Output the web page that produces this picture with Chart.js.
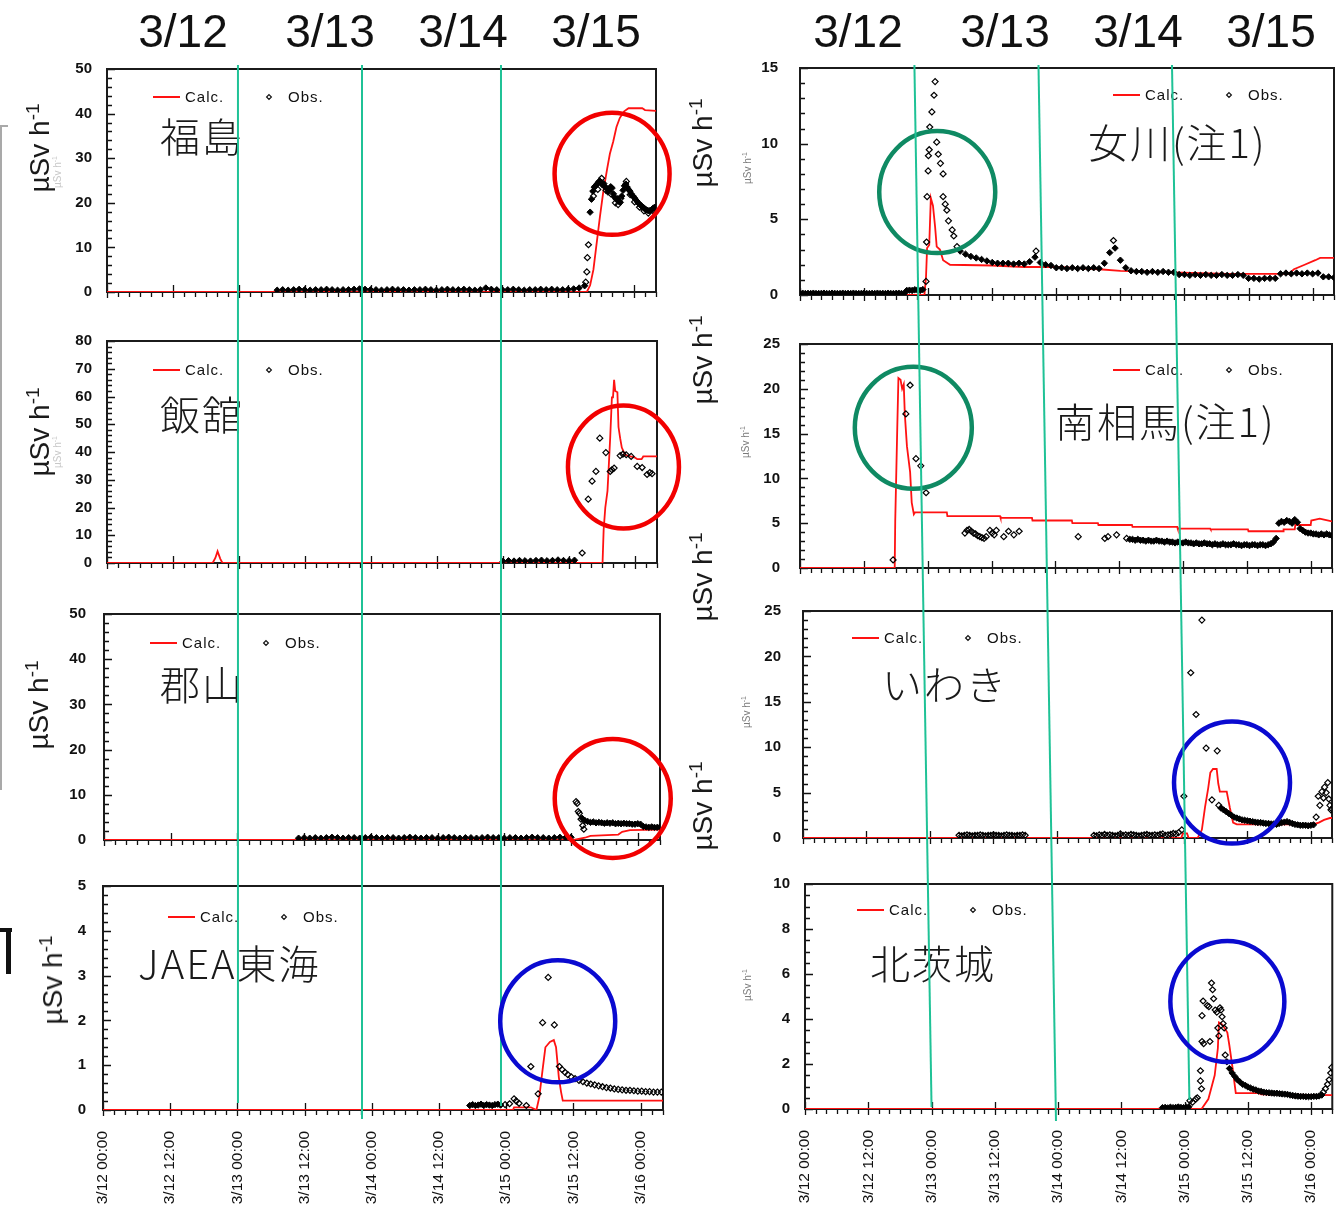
<!DOCTYPE html>
<html lang="ja">
<head>
<meta charset="utf-8">
<title>空間線量率 計算値と観測値</title>
<script src="https://cdn.jsdelivr.net/npm/chart.js@4.4.1/dist/chart.umd.min.js"></script>
<style>
  html, body { margin: 0; background: #fff; }
  #page { position: relative; width: 1343px; height: 1214px; overflow: hidden; font-family: "Liberation Sans", Arial, sans-serif; color: #111; }
  #page canvas { position: absolute; }
  .day { position: absolute; top: 8px; font-size: 46px; line-height: 46px; transform: translateX(-50%); white-space: nowrap; }
  .unit { position: absolute; font-size: 28px; line-height: 30px; white-space: nowrap; color: #1a1a1a; transform: translate(-50%, -50%) rotate(-90deg); }
  .unit sup { font-size: 19px; vertical-align: 10px; line-height: 0; }
  .unit.small { font-size: 10px; line-height: 12px; color: #7a7a7a; }
  .unit.small sup { font-size: 7px; vertical-align: 4px; }
  .unit.faint { font-size: 10px; line-height: 12px; color: #c8c8c8; }
  .unit.faint sup { font-size: 7px; vertical-align: 4px; }
  .edge { position: absolute; background: #a9a9a9; }
  .mark { position: absolute; background: #111; }
</style>
</head>
<body>
<div id="page"></div>
<script>
// time axis: hours after 3/12 00:00
const timeTicks = ['3/12 00:00', '3/12 12:00', '3/13 00:00', '3/13 12:00', '3/14 00:00',
                   '3/14 12:00', '3/15 00:00', '3/15 12:00', '3/16 00:00'];
const dayLabels = ['3/12', '3/13', '3/14', '3/15'];

// 福島
const fukushimaCalc = [[0, 0], [87.4, 0], [88.0, 1.5], [88.6, 5], [89.2, 11], [89.8, 17], [90.4, 22.5], [91.1, 27.6],
  [91.6, 31], [92.2, 33.7], [92.8, 37], [93.4, 39], [94.2, 40.5], [95.0, 41.2], [97.5, 41.2], [98.0, 40.8], [100, 40.6]];
const fukushimaObsBase = [0.4, 0.5, 0.4, 0.5, 0.6, 0.5, 0.4, 0.5, 0.5, 0.6, 0.5, 0.4, 0.5, 0.5, 0.6, 0.7, 0.6, 0.5, 0.5, 0.4,
  0.5, 0.6, 0.5, 0.5, 0.4, 0.5, 0.5, 0.6, 0.5, 0.4, 0.5, 0.6, 0.5, 0.5, 0.6, 0.5, 0.4, 0.5, 0.9, 0.6,
  0.5, 0.5, 0.5, 0.6, 0.5, 0.4, 0.5, 0.5, 0.6, 0.5, 0.6, 0.5, 0.5, 0.6, 0.7, 0.9, 1.4];
const fukushimaObsRise = [[87.2, 2.2], [87.4, 4.5], [87.5, 7.7], [87.7, 10.6], [88.6, 21.5], [89.4, 23.0], [90.1, 25.5],
  [90.9, 22.8], [91.8, 22.0], [92.6, 20.0], [93.1, 19.6], [93.6, 21.0], [94.6, 24.8], [95.3, 21.8], [96.1, 20.2],
  [97.0, 19.0], [97.8, 18.2], [98.6, 17.7], [99.4, 18.3]];
const fukushimaObsPeak = [17.9, 20.8, 22.6, 23.5, 23.8, 24.2, 24.6, 24.9, 24.5, 24.0, 24.3, 23.6, 23.2, 22.4, 23.0, 23.6,
  23.3, 22.0, 21.2, 20.8, 20.9, 20.3, 20.1, 21.5, 22.8, 23.8, 24.2, 23.5, 23.0, 22.6, 22.0, 21.6,
  21.2, 20.8, 20.4, 20.0, 19.7, 19.4, 19.1, 18.9, 18.6, 18.4, 18.3, 18.2, 18.3, 18.5, 18.8, 19.0];

// 飯舘
const iitateCalc = [[0, 0], [19.2, 0], [19.7, 1.8], [20.1, 4.2], [20.6, 1.5], [21.0, 0], [90.1, 0], [90.3, 12], [90.6, 20],
  [91.0, 26], [91.2, 33.7], [91.5, 45.6], [91.8, 59.7], [92.0, 59.7], [92.2, 66], [92.4, 62], [92.8, 61.5], [93.0, 49],
  [93.3, 45], [93.6, 41.6], [94.2, 39], [95.0, 38.5], [96.0, 38], [96.4, 37.4], [97.2, 37.4], [97.5, 38.4], [100, 38.4]];
const iitateObsBase = [0.6, 0.8, 0.7, 0.9, 0.8, 0.7, 0.9, 1.0, 0.8, 0.9, 1.1, 0.9, 0.8, 1.0];
const iitateObsPts = [[86.4, 3.6], [87.5, 23], [88.2, 29.5], [88.9, 33], [89.6, 45], [90.7, 39.8], [91.5, 33], [91.8, 33.6],
  [92.2, 34.2], [93.3, 38.7], [93.8, 39.2], [94.4, 39], [95.3, 38.4], [96.4, 34.8], [97.3, 34.4], [98.2, 31.9], [98.7, 32.6], [99.1, 32.2]];

// 郡山
const koriyamaCalc = [[0, 0], [84.5, 0], [86.5, 0.5], [87.5, 0.9], [92.5, 1.2], [93.2, 1.8], [94.6, 2.2], [100, 2.3]];
const koriyamaObsBase = [0.4, 0.5, 0.4, 0.5, 0.4, 0.5, 0.6, 0.5, 0.4, 0.5, 0.5, 0.4, 0.5, 0.6, 0.5, 0.4, 0.5, 0.5, 0.4, 0.5,
  0.6, 0.5, 0.4, 0.5, 0.5, 0.4, 0.5, 0.6, 0.5, 0.4, 0.5, 0.5, 0.4, 0.5, 0.6, 0.5, 0.5, 0.4, 0.5, 0.5,
  0.4, 0.5, 0.6, 0.5, 0.5, 0.4, 0.5, 0.6, 0.5, 0.6];
const koriyamaObsPts = [[84.9, 8.5], [85.1, 8.1], [85.3, 6.3], [85.5, 5.9], [85.8, 4.6], [86.1, 3.2], [86.3, 2.4]];
const koriyamaObsTail = [4.8, 4.3, 4.1, 3.9, 4.0, 3.8, 3.9, 3.8, 3.7, 3.8, 3.7, 3.8, 3.6, 3.7, 3.6, 3.7, 3.6, 3.6, 3.5, 3.5,
  3.6, 3.5, 3.0, 2.9, 2.8, 2.9, 2.8, 2.8, 2.9];

// JAEA東海
const tokaiCalc = [[0, 0], [73.2, 0], [73.4, 0.06], [76.4, 0.06], [77.4, 0], [77.9, 0.28], [78.5, 0.9], [79.0, 1.4],
  [79.8, 1.52], [80.5, 1.56], [80.9, 1.4], [81.4, 0.73], [81.8, 0.4], [82.1, 0.21], [100, 0.21]];
const tokaiObsBase = [0.1, 0.12, 0.1, 0.11, 0.13, 0.1, 0.12, 0.11, 0.1, 0.12, 0.13, 0.11];
const tokaiObsPts = [[71.8, 0.12], [72.6, 0.14], [73.4, 0.25], [73.8, 0.2], [74.3, 0.15], [75.6, 0.1], [76.4, 0.97],
  [77.7, 0.36], [78.5, 1.95], [79.5, 2.96], [80.6, 1.9], [81.5, 0.97], [82.0, 0.9], [82.5, 0.84], [83.0, 0.79], [83.6, 0.74],
  [84.3, 0.7], [85.0, 0.66], [85.7, 0.63], [86.4, 0.6], [87.1, 0.58], [87.8, 0.56], [88.5, 0.54], [89.2, 0.52], [89.9, 0.5],
  [90.6, 0.49], [91.3, 0.47], [92.0, 0.46], [92.7, 0.45], [93.4, 0.44], [94.1, 0.44], [94.8, 0.43], [95.5, 0.42], [96.2, 0.42],
  [96.9, 0.41], [97.6, 0.41], [98.3, 0.4], [99.0, 0.4], [99.7, 0.4]];

// 女川
const onagawaCalc = [[0, 0], [23.3, 0], [23.6, 1.2], [23.8, 3.1], [24.2, 3.3], [24.5, 6.4], [24.9, 5.9], [25.3, 4.5],
  [25.6, 3.2], [26.2, 3.0], [26.8, 2.3], [28.1, 2.0], [36, 1.95], [42, 1.85], [48, 1.85], [56, 1.7], [60, 1.6], [70, 1.5],
  [80, 1.4], [91.5, 1.4], [92.5, 1.7], [94.5, 2.0], [96.5, 2.3], [97.4, 2.45], [100, 2.45]];
const onagawaObsBase = [0.1, 0.12, 0.1, 0.11, 0.1, 0.12, 0.1, 0.1, 0.11, 0.12, 0.1, 0.1, 0.12, 0.11, 0.1, 0.1, 0.12, 0.1, 0.11, 0.1,
  0.12, 0.1, 0.1, 0.11, 0.12, 0.1, 0.1, 0.11, 0.1, 0.12, 0.1, 0.11, 0.1, 0.12, 0.1, 0.1, 0.11, 0.12, 0.1, 0.1,
  0.3, 0.32, 0.3, 0.35, 0.33, 0.3, 0.36];
const onagawaObsPeak = [[23.6, 0.9], [23.7, 3.5], [23.8, 6.5], [24.0, 8.2], [24.05, 9.2], [24.2, 9.6], [24.3, 11.1],
  [24.7, 12.1], [25.1, 13.2], [25.3, 14.1], [25.6, 10.1], [25.9, 9.3], [26.3, 8.7], [26.8, 8.0], [26.8, 6.5], [27.2, 6.0],
  [27.5, 5.6], [27.8, 4.9], [28.5, 4.3], [28.8, 3.9], [29.4, 3.2], [44.2, 2.9], [58.7, 3.6]];
const onagawaObsTail = [2.9, 2.7, 2.55, 2.45, 2.35, 2.25, 2.15, 2.1, 2.1, 2.1, 2.05, 2.1, 2.05, 2.2, 2.5, 2.15, 2.0, 1.95, 1.8, 1.8,
  1.75, 1.8, 1.75, 1.8, 1.75, 1.8, 1.75, 2.1, 2.8, 3.1, 2.3, 1.8, 1.6, 1.55, 1.55, 1.5, 1.55, 1.5, 1.55, 1.5,
  1.5, 1.35, 1.35, 1.3, 1.35, 1.3, 1.35, 1.3, 1.3, 1.35, 1.3, 1.3, 1.35, 1.3, 1.1, 1.1, 1.05, 1.1, 1.1, 1.1,
  1.4, 1.45, 1.4, 1.45, 1.4, 1.45, 1.4, 1.45, 1.2, 1.2, 1.15];

// 南相馬
const minamisomaCalc = [[0, 0], [17.8, 0], [17.9, 5.2], [18.3, 16.1], [18.5, 21.2], [18.9, 21.0], [19.2, 20.0], [19.5, 20.5],
  [19.7, 17.2], [20.1, 13.6], [20.7, 10.7], [21.0, 7.3], [21.4, 6.0], [21.6, 6.2], [27.6, 6.2], [27.7, 5.8], [37.6, 5.8],
  [37.7, 5.6], [43.6, 5.6], [43.7, 5.3], [51.1, 5.3], [51.2, 5.0], [56.0, 5.0], [56.1, 4.8], [62.4, 4.8], [62.5, 4.6],
  [70.9, 4.6], [71.0, 4.4], [77.1, 4.4], [77.2, 4.3], [84.2, 4.3], [84.3, 4.1], [90.8, 4.1], [90.9, 4.3], [93.0, 4.3],
  [93.1, 4.8], [96.0, 4.8], [96.1, 5.3], [97.7, 5.5], [98.5, 5.4], [100, 5.2]];
const minamisomaObsPts = [[17.5, 0.9], [19.9, 17.2], [20.7, 20.4], [21.8, 12.2], [22.7, 11.4], [23.7, 8.4],
  [31.0, 3.9], [31.4, 4.2], [31.8, 4.3], [32.2, 4.1], [32.6, 3.9], [33.0, 3.8], [33.4, 3.6], [33.8, 3.5], [34.2, 3.4],
  [34.6, 3.3], [35.0, 3.5], [35.7, 4.2], [36.1, 3.9], [36.5, 3.7], [36.9, 4.2], [38.3, 3.5], [39.2, 4.1], [40.2, 3.7],
  [41.2, 4.1], [52.3, 3.5], [57.3, 3.3], [57.9, 3.5], [59.5, 3.7], [61.4, 3.3]];
const minamisomaObsMid = [3.2, 3.2, 3.1, 3.2, 3.1, 3.1, 3.0, 3.1, 3.0, 3.0, 3.1, 3.0, 3.0, 2.9, 3.0, 2.9,
  2.9, 2.8, 2.9, 2.8, 2.8, 2.9, 2.8, 2.8, 2.7, 2.8, 2.7, 2.7, 2.8, 2.7, 2.7, 2.6,
  2.7, 2.6, 2.6, 2.7, 2.6, 2.6, 2.6, 2.7, 2.6, 2.6, 2.5, 2.6, 2.6, 2.5, 2.6, 2.6,
  2.5, 2.6, 2.6, 2.5, 2.6, 2.7, 2.9, 3.3];
const minamisomaObsEnd = [5.0, 5.2, 5.1, 5.3, 5.2, 5.0, 5.4, 5.1, 4.4, 4.2, 4.0, 3.9, 3.9, 3.8, 3.8, 3.7, 3.8, 3.7, 3.8, 3.7, 3.6];

// いわき
const iwakiCalc = [[0, 0], [71.5, 0], [71.8, 0.5], [72.6, 0.5], [72.9, 0], [74.6, 0], [75.4, 0.9], [76.0, 3.4], [76.6, 5.5],
  [77.0, 7.2], [77.5, 7.6], [78.2, 7.6], [78.5, 6.0], [78.8, 5.1], [80.1, 5.1], [80.4, 4.2], [80.7, 3.3], [81.3, 1.7],
  [82.0, 1.5], [96.4, 1.5], [97.5, 1.7], [98.5, 2.0], [99.6, 2.2], [100, 2.2]];
const iwakiObsBaseA = [0.3, 0.25, 0.3, 0.35, 0.3, 0.25, 0.3, 0.3, 0.35, 0.3, 0.25, 0.3, 0.3, 0.35, 0.3, 0.3, 0.25, 0.3, 0.35,
  0.3, 0.3, 0.25, 0.3, 0.3, 0.35, 0.3];
const iwakiObsBaseB = [0.3, 0.25, 0.35, 0.3, 0.4, 0.3, 0.35, 0.3, 0.25, 0.3, 0.45, 0.3, 0.35, 0.3, 0.4, 0.35, 0.3, 0.25, 0.3,
  0.35, 0.4, 0.3, 0.3, 0.35, 0.3, 0.4, 0.45, 0.3, 0.35, 0.4, 0.5, 0.45, 0.6];
const iwakiObsPts = [[71.6, 0.9], [72.0, 4.6], [73.3, 18.2], [74.3, 13.6], [75.4, 24.0], [76.2, 9.9], [77.3, 4.2],
  [78.3, 9.6], [78.6, 3.6], [97.0, 2.3], [97.4, 4.6], [97.7, 3.6], [98.1, 5.1], [98.4, 4.4], [98.6, 5.6], [98.9, 5.0],
  [99.2, 6.1], [99.4, 4.3], [99.6, 3.6], [99.8, 3.1], [100, 3.2]];
const iwakiObsTail = [3.3, 3.1, 2.9, 2.7, 2.5, 2.3, 2.2, 2.1, 2.0, 1.95, 1.9, 1.85, 1.8, 1.75, 1.7, 1.7, 1.65, 1.6,
  1.6, 1.55, 1.55, 1.5, 1.6, 1.7, 1.75, 1.8, 1.7, 1.6, 1.5, 1.45, 1.4, 1.4, 1.4, 1.35, 1.4, 1.45];

// 北茨城
const kitaibarakiCalc = [[0, 0], [75.2, 0], [76.5, 0.44], [77.7, 1.5], [78.3, 2.7], [78.5, 3.85], [78.9, 3.8], [79.3, 3.7],
  [80.1, 3.4], [80.5, 2.8], [81.1, 1.8], [81.7, 0.71], [86.0, 0.71], [86.5, 0.65], [100, 0.62]];
const kitaibarakiObsBase = [0.06, 0.07, 0.05, 0.08, 0.06, 0.07, 0.09, 0.07, 0.06, 0.08, 0.1];
const kitaibarakiObsPts = [[73.0, 0.37], [73.5, 0.3], [74.1, 0.44], [74.4, 0.5], [75.0, 1.7], [75.0, 1.25], [75.2, 0.9],
  [75.3, 3.0], [75.3, 4.15], [75.5, 4.8], [75.6, 2.9], [76.3, 4.6], [76.6, 4.55], [76.8, 3.0], [77.1, 5.6], [77.3, 5.3],
  [77.5, 4.9], [77.8, 4.4], [78.1, 4.3], [78.3, 3.6], [78.5, 3.25], [78.7, 4.5], [78.9, 4.4], [79.1, 4.1], [79.3, 3.8],
  [79.5, 3.6], [79.7, 2.4], [98.3, 0.75], [98.7, 0.9], [99.1, 1.1], [99.4, 1.3], [99.7, 1.6], [99.9, 1.85]];
const kitaibarakiObsTail = [2.1, 1.8, 1.6, 1.45, 1.3, 1.2, 1.1, 1.05, 0.98, 0.93, 0.88, 0.85, 0.8, 0.78, 0.75, 0.73, 0.72,
  0.71, 0.7, 0.7, 0.68, 0.67, 0.66, 0.65, 0.62, 0.6, 0.58, 0.57, 0.56, 0.56, 0.55, 0.55, 0.55, 0.56, 0.56, 0.58, 0.62];

// day marker lines, as hours on the bottom time axis of each column [at top end, at bottom end]
const guideLeft = [[24.1, 24.1], [46.25, 46.25], [71.07, 71.07]];
const guideRight = [[20.75, 24.0], [44.28, 47.6], [69.6, 72.9]];

const xy = list => list.map(([x, y]) => ({ x, y }));
const series = (start, step, values) => values.map((y, i) => ({ x: start + i * step, y }));

const RED = '#ff1212';
const RING = { red: '#f20000', green: '#0f8a63', blue: '#0a0ad0' };
const GUIDE = '#1fc296';

const panels = [
  { name: '福島', box: [0, 50, 690, 325], plot: [107, 69, 656, 292], yMax: 50, yStep: 10, yMinor: 2, yPad: 15,
    calc: fukushimaCalc,
    filled: [...series(31, 1, fukushimaObsBase), ...series(88, 0.25, fukushimaObsPeak)],
    hollow: xy(fukushimaObsRise),
    legendAt: [46, 28], nameAt: [53, 68], ring: { x: 92, y: 26.5, rx: 57.5, ry: 61, color: RING.red } },
  { name: '飯舘', box: [0, 325, 690, 598], plot: [107, 341, 657, 563], yMax: 80, yStep: 10, yMinor: 2, yPad: 15,
    calc: iitateCalc,
    filled: series(72, 1, iitateObsBase),
    hollow: xy(iitateObsPts),
    legendAt: [46, 29], nameAt: [53, 74], ring: { x: 93.9, y: 34.6, rx: 55.5, ry: 61.5, color: RING.red } },
  { name: '郡山', box: [0, 598, 690, 872], plot: [104, 614, 660, 840], yMax: 50, yStep: 10, yMinor: 2, yPad: 18,
    calc: koriyamaCalc,
    filled: [...series(35, 1, koriyamaObsBase), ...series(86, 0.5, koriyamaObsTail)],
    hollow: xy(koriyamaObsPts),
    legendAt: [46, 29], nameAt: [56, 71], ring: { x: 91.5, y: 9.2, rx: 58, ry: 59.5, color: RING.red } },
  { name: 'JAEA東海', box: [0, 50, 690, 1214], plot: [103, 886, 663, 1110], yMax: 5, yStep: 1, yMinor: 0.2, yPad: 17,
    calc: tokaiCalc,
    filled: series(65.5, 0.5, tokaiObsBase),
    hollow: xy(tokaiObsPts),
    legendAt: [65, 31], nameAt: [35, 78], ring: { x: 81.2, y: 1.98, rx: 57.5, ry: 61, color: RING.blue },
    timeAxis: true, guides: guideLeft, guideSpan: [[65, 1103], [65, 1119], [65, 1106]] },
  { name: '女川(注1)', box: [690, 50, 1343, 325], plot: [800, 68, 1334, 295], yMax: 15, yStep: 5, yMinor: 1, yPad: 22,
    calc: onagawaCalc,
    filled: [...series(0, 0.5, onagawaObsBase), ...series(30, 1, onagawaObsTail)],
    hollow: xy(onagawaObsPeak),
    legendAt: [313, 27], nameAt: [288, 75], ring: { x: 25.7, y: 6.8, rx: 58, ry: 61, color: RING.green } },
  { name: '南相馬(注1)', box: [690, 325, 1343, 598], plot: [800, 344, 1332, 568], yMax: 25, yStep: 5, yMinor: 1, yPad: 20,
    calc: minamisomaCalc,
    filled: [...series(62, 0.5, minamisomaObsMid), ...series(90, 0.5, minamisomaObsEnd)],
    hollow: xy(minamisomaObsPts),
    legendAt: [313, 26], nameAt: [255, 78], ring: { x: 21.3, y: 15.65, rx: 58.5, ry: 61, color: RING.green } },
  { name: 'いわき', box: [690, 598, 1343, 870], plot: [803, 611, 1332, 838], yMax: 25, yStep: 5, yMinor: 1, yPad: 22,
    calc: iwakiCalc,
    filled: series(79, 0.5, iwakiObsTail),
    hollow: [...series(29.5, 0.5, iwakiObsBaseA), ...series(55, 0.5, iwakiObsBaseB), ...xy(iwakiObsPts)],
    legendAt: [49, 27], nameAt: [79, 74], ring: { x: 81.1, y: 6.1, rx: 58, ry: 61, color: RING.blue } },
  { name: '北茨城', box: [690, 50, 1343, 1214], plot: [805, 884, 1338, 1109], yMax: 10, yStep: 2, yMinor: 0.5, yPad: 15,
    calc: kitaibarakiCalc,
    filled: [...series(67.8, 0.5, kitaibarakiObsBase), ...series(80, 0.5, kitaibarakiObsTail)],
    hollow: xy(kitaibarakiObsPts),
    legendAt: [52, 26], nameAt: [65, 80], ring: { x: 80.1, y: 4.78, rx: 57, ry: 60.5, color: RING.blue },
    timeAxis: true, guides: guideRight, guideSpan: [[65, 1107], [65, 1121], [65, 1100]] }
];

function diamond(ctx, cx, cy, r) {
  ctx.beginPath();
  ctx.moveTo(cx, cy - r);
  ctx.lineTo(cx + r, cy);
  ctx.lineTo(cx, cy + r);
  ctx.lineTo(cx - r, cy);
  ctx.closePath();
  ctx.lineWidth = 1.2;
  ctx.strokeStyle = '#111';
  ctx.stroke();
}

// frame, tick marks, legend, station name, ring and day lines for one panel
function decor(p) {
  return {
    id: 'decor',
    beforeDatasetsDraw(chart) {
      const { ctx, chartArea: a, scales: { x, y } } = chart;
      ctx.save();
      ctx.strokeStyle = '#111';
      ctx.lineWidth = 1.3;
      ctx.beginPath();
      for (let h = 0; h <= 100; h += 2) {
        const px = Math.round(x.getPixelForValue(h)) + 0.5;
        const major = h % 12 === 0;
        ctx.moveTo(px, a.bottom - (major ? 7 : 0));
        ctx.lineTo(px, a.bottom + (major ? 6 : 5));
      }
      const n = Math.round(p.yMax / p.yMinor);
      for (let i = 0; i <= n; i++) {
        const v = i * p.yMinor;
        const py = Math.round(y.getPixelForValue(v)) + 0.5;
        const major = Math.abs(v / p.yStep - Math.round(v / p.yStep)) < 1e-6;
        ctx.moveTo(a.left, py);
        ctx.lineTo(a.left + (major ? 8 : 5), py);
      }
      ctx.stroke();
      ctx.lineWidth = 2;
      ctx.strokeStyle = '#1b1b1b';
      ctx.strokeRect(a.left, a.top, a.right - a.left, a.bottom - a.top);
      ctx.restore();
    },
    afterDatasetsDraw(chart) {
      const { ctx, chartArea: a, scales: { x, y } } = chart;
      ctx.save();
      const lx = a.left + p.legendAt[0], ly = a.top + p.legendAt[1];
      ctx.strokeStyle = RED;
      ctx.lineWidth = 2;
      ctx.beginPath();
      ctx.moveTo(lx, ly);
      ctx.lineTo(lx + 27, ly);
      ctx.stroke();
      ctx.font = '15px "Liberation Sans"';
      ctx.fillStyle = '#111';
      ctx.textBaseline = 'middle';
      ctx.letterSpacing = '1px';
      ctx.fillText('Calc.', lx + 32, ly + 1);
      diamond(ctx, lx + 116, ly, 2.4);
      ctx.fillText('Obs.', lx + 135, ly + 1);

      ctx.font = '300 40px "Noto Sans CJK JP"';
      ctx.letterSpacing = '2px';
      ctx.fillStyle = '#1a1a1a';
      ctx.fillText(p.name, a.left + p.nameAt[0], a.top + p.nameAt[1]);
      ctx.letterSpacing = '0px';

      if (p.guides) {
        const top = p.box[1];
        ctx.strokeStyle = GUIDE;
        ctx.lineWidth = 2;
        p.guides.forEach(([h0, h1], i) => {
          const [y0, y1] = p.guideSpan[i];
          ctx.beginPath();
          ctx.moveTo(x.getPixelForValue(h0), y0 - top);
          ctx.lineTo(x.getPixelForValue(h1), y1 - top);
          ctx.stroke();
        });
      }

      const r = p.ring;
      ctx.strokeStyle = r.color;
      ctx.lineWidth = 4.5;
      ctx.beginPath();
      ctx.ellipse(x.getPixelForValue(r.x), y.getPixelForValue(r.y), r.rx, r.ry, 0, 0, Math.PI * 2);
      ctx.stroke();
      ctx.restore();
    }
  };
}

const page = document.getElementById('page');

panels.forEach(p => {
  const [bl, bt, br, bb] = p.box;
  const [l, t, r, b] = p.plot;
  const canvas = document.createElement('canvas');
  canvas.width = br - bl;
  canvas.height = bb - bt;
  canvas.style.left = bl + 'px';
  canvas.style.top = bt + 'px';
  page.appendChild(canvas);

  new Chart(canvas, {
    type: 'line',
    data: {
      datasets: [
        { label: 'Obs.', data: p.filled, showLine: false, pointStyle: 'rectRot', pointRadius: 3.2,
          pointBorderWidth: 1, pointBorderColor: '#000', pointBackgroundColor: '#000' },
        { label: 'Obs.', data: p.hollow, showLine: false, pointStyle: 'rectRot', pointRadius: 3,
          pointBorderWidth: 1.2, pointBorderColor: '#000', pointBackgroundColor: 'rgba(255,255,255,0)' },
        { label: 'Calc.', data: xy(p.calc), borderColor: RED, borderWidth: 1.8, pointRadius: 0, tension: 0 }
      ]
    },
    options: {
      responsive: false,
      animation: false,
      devicePixelRatio: 1,
      layout: { padding: { top: t - bt, right: br - r, left: 0, bottom: 0 } },
      plugins: { legend: { display: false }, tooltip: { enabled: false } },
      scales: {
        x: {
          type: 'linear', min: 0, max: 100,
          grid: { display: false }, border: { display: false },
          ticks: {
            display: !!p.timeAxis, stepSize: 12, autoSkip: false, includeBounds: false,
            minRotation: 90, maxRotation: 90, padding: 13, color: '#111',
            font: { family: 'Liberation Sans', size: 15.5 },
            callback: v => (v % 12 === 0 ? timeTicks[v / 12] : '')
          },
          afterFit: s => { s.height = bb - b; }
        },
        y: {
          min: 0, max: p.yMax,
          // label gap comes from an invisible tick length, so it does not add vertical padding
          grid: { display: true, drawOnChartArea: false, drawTicks: true, tickLength: p.yPad, tickColor: 'rgba(0,0,0,0)' },
          border: { display: false },
          ticks: { stepSize: p.yStep, padding: 0, color: '#111',
                   font: { family: 'Liberation Sans', size: 15, weight: 'bold' } },
          afterFit: s => { s.width = l - bl; }
        }
      }
    },
    plugins: [decor(p)]
  });
});

// day headings over both columns
[183, 330, 463, 596].forEach((cx, i) => {
  [cx, cx + 675].forEach(px => {
    const d = document.createElement('div');
    d.className = 'day';
    d.style.left = px + 'px';
    d.textContent = dayLabels[i];
    page.appendChild(d);
  });
});

// unit captions
const unitHtml = 'µSv h<sup>-1</sup>';
[[40, 148, ''], [40, 432, ''], [39, 705, ''], [53, 980, ''],
 [703, 143, ''], [703, 360, ''], [703, 577, ''], [703, 806, ''],
 [748, 168, 'small'], [746, 442, 'small'], [747, 712, 'small'], [748, 985, 'small'],
 [58, 172, 'faint'], [58, 452, 'faint']].forEach(([cx, cy, kind]) => {
  const d = document.createElement('div');
  d.className = 'unit ' + kind;
  d.style.left = cx + 'px';
  d.style.top = cy + 'px';
  d.innerHTML = unitHtml;
  page.appendChild(d);
});

// edge remnants at the left border
[['edge', 0, 125, 2, 665], ['edge', 0, 125, 8, 2], ['mark', 0, 928, 12, 4], ['mark', 6, 928, 5, 46]]
  .forEach(([cls, x, y, w, h]) => {
    const d = document.createElement('div');
    d.className = cls;
    Object.assign(d.style, { left: x + 'px', top: y + 'px', width: w + 'px', height: h + 'px' });
    page.appendChild(d);
  });
</script>
</body>
</html>
